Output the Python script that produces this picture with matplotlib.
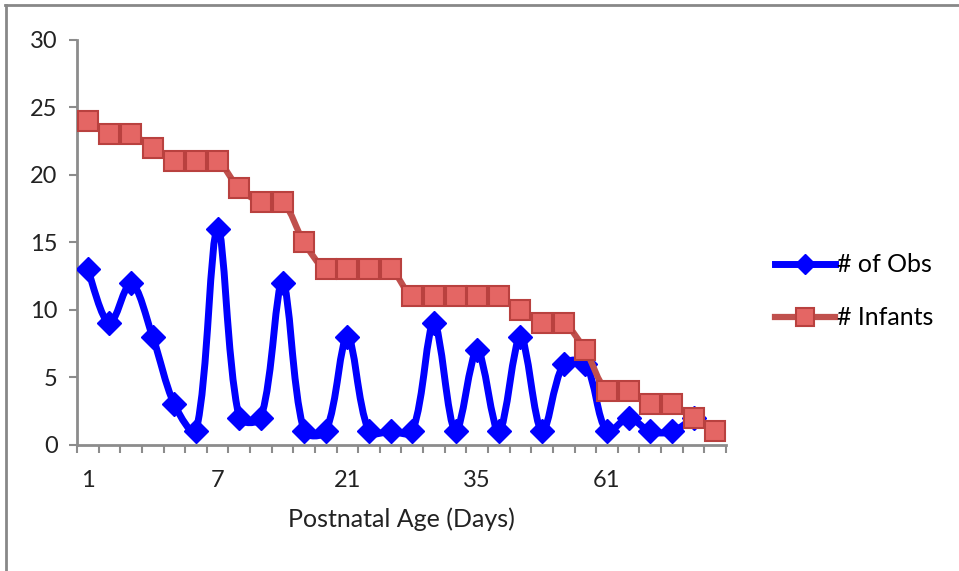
import matplotlib
matplotlib.use('Agg')
import matplotlib.pyplot as plt
import numpy as np
from matplotlib.lines import Line2D
from matplotlib.path import Path
from matplotlib.patches import PathPatch

plt.rcParams['font.family'] = ['Lato', 'DejaVu Sans']

# one point per category along the x axis, labels only every 6th
n_cat = 30
tick_pos = [0, 6, 12, 18, 24]
tick_labels = ['1', '7', '21', '35', '61']

# number of observations (no value for the last category)
obs = [13, 9, 12, 8, 3, 1, 16, 2, 2, 12, 1, 1, 8, 1, 1,
       1, 9, 1, 7, 1, 8, 1, 6, 6, 1, 2, 1, 1, 2]
# number of infants
infants = [24, 23, 23, 22, 21, 21, 21, 19, 18, 18, 15, 13, 13, 13, 13,
           11, 11, 11, 11, 11, 10, 9, 9, 7, 4, 4, 3, 3, 2, 1]

fig = plt.figure(figsize=(9.59, 5.71), dpi=100)
ax = fig.add_axes([0.0803, 0.2207, 0.6767, 0.7093])
ax.set_xlim(-0.5, n_cat - 0.5)
ax.set_ylim(0, 30)


def smooth_path(ys):
    # smoothed line: bezier through the points, handles scaled by chord length
    pts = ax.transData.transform(np.column_stack([np.arange(len(ys)), ys]))
    n = len(pts)
    d = np.hypot(*np.diff(pts, axis=0).T)
    verts = [pts[0]]
    codes = [Path.MOVETO]
    for i in range(n - 1):
        i0 = max(i - 1, 0)
        i3 = min(i + 2, n - 1)
        da = d[i0] if i > 0 else d[i]
        db = d[i + 1] if i + 1 < n - 1 else d[i]
        c1 = pts[i] + (pts[i + 1] - pts[i0]) * d[i] / (da + d[i]) / 3
        c2 = pts[i + 1] - (pts[i3] - pts[i]) * d[i] / (d[i] + db) / 3
        verts += [c1, c2, pts[i + 1]]
        codes += [Path.CURVE4] * 3
    verts = ax.transData.inverted().transform(np.array(verts))
    return Path(verts, codes)


blue = '#0000FF'
red = '#C0504D'

ax.add_patch(PathPatch(smooth_path(obs), fc='none', ec=blue, lw=5,
                       capstyle='round', joinstyle='round', zorder=3))
ax.plot(range(len(obs)), obs, ls='none', marker='D', ms=12.5, mfc=blue,
        mec=blue, zorder=3)
ax.add_patch(PathPatch(smooth_path(infants), fc='none', ec=red, lw=4.5,
                       capstyle='round', joinstyle='round', zorder=4))
ax.plot(range(len(infants)), infants, ls='none', marker='s', ms=15,
        mfc='#E46664', mec='#B9413F', mew=1.5, zorder=5)

ax.set_yticks(range(0, 31, 5))
ax.set_xticks(tick_pos)
ax.set_xticklabels(tick_labels)
ax.set_xticks(np.arange(-0.5, n_cat), minor=True)

grey = '#8C8C8C'
for s in ['top', 'right']:
    ax.spines[s].set_visible(False)
for s in ['left', 'bottom']:
    ax.spines[s].set_color(grey)
    ax.spines[s].set_linewidth(2)

ax.tick_params(axis='y', direction='out', length=6, width=1.5, color=grey,
               labelsize=17, pad=8, labelcolor='#222222')
ax.tick_params(axis='x', which='major', length=0, labelsize=17, pad=18,
               labelcolor='#222222')
ax.tick_params(axis='x', which='minor', direction='out', length=6,
               width=1.5, color=grey)

ax.set_xlabel('Postnatal Age (Days)', fontsize=18, color='#222222', labelpad=12)

handles = [Line2D([], [], color=blue, lw=5, marker='D', ms=10,
                  mfc=blue, mec=blue),
           Line2D([], [], color=red, lw=4.5, marker='s', ms=13,
                  mfc='#E46664', mec='#B9413F', mew=1.5)]
fig.legend(handles, ['# of Obs', '# Infants'], loc='center left',
           bbox_to_anchor=(0.808, 0.4895), frameon=False,
           fontsize=18, handlelength=2.4, handletextpad=0.1,
           labelspacing=1.2, borderpad=0, borderaxespad=0)

# frame edge of the original slide
fig.add_artist(Line2D([0.005, 1.0], [0.991, 0.991], color='#888888', lw=2))
fig.add_artist(Line2D([0.006, 0.006], [0.0, 0.991], color='#888888', lw=2))

fig.savefig('out.png', dpi=100)
